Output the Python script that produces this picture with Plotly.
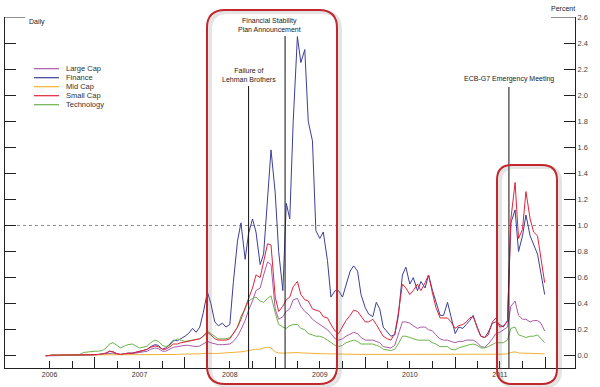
import plotly.graph_objects as go
import pandas as pd

# ---------------- data (semi-monthly readings, last point = end of 2011) ----------------
dates = list(pd.date_range("2006-06-15", "2011-12-15", freq="SMS")) + [pd.Timestamp("2011-12-30")]

large_cap = [
    0.0, 0.005, 0.005, 0.005, 0.005, 0.005, 0.005, 0.005, 0.005, 0.005,
    0.005, 0.005, 0.005, 0.005, 0.005, 0.01, 0.015, 0.02, 0.02, 0.01,
    0.01, 0.01, 0.012, 0.015, 0.02, 0.025, 0.03, 0.035, 0.05, 0.06,
    0.055, 0.035, 0.035, 0.05, 0.065, 0.07, 0.075, 0.08, 0.08, 0.075,
    0.07, 0.075, 0.09, 0.11, 0.10, 0.09, 0.085, 0.085, 0.09, 0.09,
    0.11, 0.15, 0.20, 0.27, 0.35, 0.42, 0.50, 0.52, 0.62, 0.72,
    0.70, 0.36, 0.28, 0.30, 0.34, 0.36, 0.43, 0.44, 0.38, 0.34,
    0.32, 0.28, 0.26, 0.24, 0.22, 0.20, 0.17, 0.13, 0.12, 0.13,
    0.15, 0.17, 0.18, 0.17, 0.14, 0.12, 0.12, 0.12, 0.11, 0.10,
    0.07, 0.065, 0.06, 0.08, 0.17, 0.26, 0.26, 0.25, 0.23, 0.21,
    0.22, 0.22, 0.20, 0.19, 0.16, 0.13, 0.12, 0.12, 0.11, 0.10,
    0.11, 0.11, 0.12, 0.12, 0.12, 0.10, 0.07, 0.065, 0.09, 0.13,
    0.17, 0.18, 0.20, 0.22, 0.38, 0.42, 0.31, 0.28, 0.28, 0.26,
    0.27, 0.27, 0.25, 0.19,
]

finance = [
    0.0, 0.0, 0.005, 0.005, 0.005, 0.005, 0.005, 0.005, 0.005, 0.005,
    0.005, 0.005, 0.005, 0.005, 0.01, 0.015, 0.02, 0.035, 0.03, 0.015,
    0.01, 0.015, 0.02, 0.02, 0.025, 0.03, 0.04, 0.05, 0.07, 0.085,
    0.08, 0.05, 0.06, 0.09, 0.12, 0.115, 0.13, 0.15, 0.17, 0.21,
    0.18, 0.22, 0.33, 0.49, 0.40, 0.26, 0.23, 0.25, 0.22, 0.24,
    0.56, 0.88, 1.02, 0.74, 0.94, 1.05, 0.95, 0.70, 0.78, 1.19,
    1.58, 1.25, 0.80, 0.50, 1.17, 1.05, 1.80, 2.45, 2.25, 2.35,
    1.80, 1.65, 0.96, 0.90, 0.95, 0.73, 0.45, 0.50, 0.50, 0.45,
    0.55, 0.65, 0.69, 0.65, 0.47, 0.37, 0.32, 0.30, 0.41, 0.36,
    0.22, 0.18, 0.15, 0.16, 0.30, 0.62, 0.68, 0.55, 0.60, 0.50,
    0.57, 0.52, 0.62, 0.50, 0.42, 0.31, 0.31, 0.41, 0.30, 0.17,
    0.22, 0.21, 0.24, 0.27, 0.31, 0.21, 0.15, 0.14, 0.18, 0.25,
    0.26, 0.24, 0.22, 0.27, 1.02, 1.12, 0.80, 0.92, 1.08, 0.92,
    0.85, 0.78, 0.63, 0.47,
]

mid_cap = [
    0.0, 0.005, 0.005, 0.005, 0.005, 0.005, 0.005, 0.005, 0.005, 0.005,
    0.005, 0.005, 0.005, 0.005, 0.005, 0.005, 0.005, 0.005, 0.005, 0.005,
    0.005, 0.005, 0.005, 0.005, 0.005, 0.005, 0.008, 0.008, 0.01, 0.01,
    0.01, 0.01, 0.01, 0.01, 0.01, 0.01, 0.012, 0.012, 0.015, 0.015,
    0.015, 0.015, 0.018, 0.02, 0.02, 0.018, 0.018, 0.02, 0.02, 0.022,
    0.025, 0.03, 0.03, 0.035, 0.04, 0.045, 0.05, 0.05, 0.06, 0.065,
    0.06, 0.03, 0.022, 0.02, 0.022, 0.025, 0.025, 0.025, 0.022, 0.02,
    0.02, 0.018, 0.017, 0.016, 0.015, 0.015, 0.014, 0.013, 0.012, 0.012,
    0.012, 0.012, 0.012, 0.01, 0.01, 0.01, 0.01, 0.01, 0.01, 0.01,
    0.008, 0.008, 0.008, 0.008, 0.01, 0.012, 0.012, 0.012, 0.012, 0.012,
    0.012, 0.012, 0.012, 0.01, 0.01, 0.01, 0.01, 0.01, 0.008, 0.008,
    0.008, 0.008, 0.008, 0.008, 0.008, 0.008, 0.008, 0.008, 0.008, 0.01,
    0.012, 0.012, 0.012, 0.015, 0.025, 0.03, 0.022, 0.02, 0.02, 0.018,
    0.018, 0.018, 0.016, 0.015,
]

small_cap = [
    0.0, 0.005, 0.005, 0.005, 0.005, 0.005, 0.005, 0.005, 0.005, 0.005,
    0.005, 0.005, 0.005, 0.005, 0.01, 0.015, 0.02, 0.035, 0.03, 0.015,
    0.01, 0.015, 0.02, 0.02, 0.025, 0.03, 0.04, 0.05, 0.065, 0.075,
    0.07, 0.05, 0.05, 0.07, 0.09, 0.09, 0.10, 0.105, 0.11, 0.115,
    0.12, 0.13, 0.15, 0.18, 0.16, 0.13, 0.12, 0.12, 0.12, 0.13,
    0.17, 0.22, 0.28, 0.36, 0.44, 0.52, 0.62, 0.60, 0.72, 0.86,
    0.85, 0.45, 0.34, 0.38, 0.43, 0.45, 0.53, 0.57, 0.47, 0.43,
    0.42, 0.36, 0.35, 0.34, 0.30, 0.29, 0.24, 0.19, 0.17, 0.23,
    0.27, 0.31, 0.35, 0.34, 0.30, 0.26, 0.26, 0.28, 0.24, 0.20,
    0.15, 0.13, 0.12, 0.17, 0.32, 0.55, 0.52, 0.47, 0.50, 0.55,
    0.50, 0.56, 0.62, 0.48, 0.37, 0.29, 0.29, 0.29, 0.26, 0.21,
    0.23, 0.24, 0.26, 0.29, 0.30, 0.21, 0.15, 0.14, 0.16, 0.26,
    0.29, 0.22, 0.23, 0.26, 1.05, 1.33, 0.90, 0.97, 1.26, 1.05,
    0.95, 0.92, 0.75, 0.56,
]

technology = [
    0.0, 0.005, 0.005, 0.005, 0.005, 0.005, 0.005, 0.005, 0.005, 0.01,
    0.025, 0.03, 0.03, 0.035, 0.035, 0.04, 0.06, 0.09, 0.10, 0.075,
    0.06, 0.075, 0.085, 0.09, 0.075, 0.06, 0.065, 0.075, 0.10, 0.12,
    0.11, 0.08, 0.07, 0.08, 0.11, 0.13, 0.12, 0.11, 0.115, 0.12,
    0.125, 0.13, 0.15, 0.19, 0.17, 0.15, 0.13, 0.13, 0.13, 0.14,
    0.17, 0.22, 0.30, 0.36, 0.42, 0.44, 0.45, 0.42, 0.41, 0.44,
    0.46, 0.33, 0.24, 0.22, 0.21, 0.23, 0.24, 0.24, 0.21, 0.20,
    0.17, 0.16, 0.15, 0.15, 0.14, 0.12, 0.10, 0.08, 0.07, 0.08,
    0.10, 0.11, 0.12, 0.11, 0.09, 0.09, 0.09, 0.09, 0.08, 0.07,
    0.05, 0.045, 0.04, 0.05, 0.09, 0.15, 0.15, 0.14, 0.13, 0.12,
    0.12, 0.12, 0.12, 0.10, 0.09, 0.07, 0.07, 0.07, 0.05, 0.045,
    0.06, 0.07, 0.08, 0.085, 0.09, 0.08, 0.06, 0.06, 0.07, 0.09,
    0.10, 0.10, 0.10, 0.12, 0.21, 0.22, 0.16, 0.15, 0.14, 0.15,
    0.15, 0.16, 0.13, 0.10,
]

series_names = ["Large Cap", "Finance", "Mid Cap", "Small Cap", "Technology"]
series_values = [large_cap, finance, mid_cap, small_cap, technology]
series_colors = ["#A95AAA", "#3C3F98", "#F2B134", "#E2233A", "#6DB34A"]

year_labels = ["2006", "2007", "2008", "2009", "2010", "2011"]
y_ticks = [round(0.2 * k, 1) for k in range(14)]

events = [
    ("2008-09-15", "Failure of<br>Lehman Brothers"),
    ("2009-02-10", "Financial Stability<br>Plan Announcement"),
    ("2011-08-07", "ECB-G7 Emergency Meeting"),
]

# ---------------- layout helpers ----------------
W, H = 600, 387
L, R, T, B = 5, 575, 17, 368
Y_MIN, Y_MAX = -0.094, 2.6
FONT = "Liberation Sans, Arial, sans-serif"


def px(x):
    return (x - L) / (R - L)


def py(y):
    return (B - y) / (B - T)


def rrect(x0, y0, x1, y1, r):
    pts = [
        ("M", [(x0 + r, y0)]), ("L", [(x1 - r, y0)]), ("Q", [(x1, y0), (x1, y0 + r)]),
        ("L", [(x1, y1 - r)]), ("Q", [(x1, y1), (x1 - r, y1)]),
        ("L", [(x0 + r, y1)]), ("Q", [(x0, y1), (x0, y1 - r)]),
        ("L", [(x0, y0 + r)]), ("Q", [(x0, y0), (x0 + r, y0)]),
    ]
    s = ""
    for cmd, pp in pts:
        s += cmd + " " + " ".join(f"{px(a):.5f},{py(b):.5f}" for a, b in pp) + " "
    return s + "Z"


fig = go.Figure()
for name, vals, col in zip(series_names, series_values, series_colors):
    on2 = name == "Small Cap"
    fig.add_trace(go.Scatter(
        x=dates, y=vals, name=name, mode="lines",
        line=dict(color=col, width=1),
        xaxis="x2" if on2 else "x", yaxis="y2" if on2 else "y",
        showlegend=False,
    ))

shapes = []
# dotted 1.0 reference line
shapes.append(dict(type="line", xref="paper", yref="y", x0=0, x1=1, y0=1.0, y1=1.0,
                   line=dict(color="#8a8a8a", width=1, dash="dot"), layer="below"))
# top caps of the axes
shapes.append(dict(type="line", xref="paper", yref="y", x0=px(5), x1=px(25), y0=Y_MAX, y1=Y_MAX,
                   line=dict(color="#222", width=1)))
shapes.append(dict(type="line", xref="paper", yref="y", x0=px(551), x1=px(575), y0=Y_MAX, y1=Y_MAX,
                   line=dict(color="#222", width=1)))
# event lines
event_tops = [86, 36, 87]
for (d, _), top in zip(events, event_tops):
    shapes.append(dict(type="line", xref="x", yref="paper", x0=d, x1=d, y0=0, y1=py(top),
                       line=dict(color="#111", width=1)))
# highlight boxes with soft shadow
for (x0, y0, x1, y1, r) in [(207, 10, 337, 384, 18), (497, 165, 557, 384, 15)]:
    shapes.append(dict(type="path", xref="paper", yref="paper",
                       path=rrect(x0 + 3, y0 + 2, x1 + 3, y1 + 2, r),
                       line=dict(color="rgba(120,120,120,0.2)", width=4)))
    shapes.append(dict(type="path", xref="paper", yref="paper",
                       path=rrect(x0, y0, x1, y1, r),
                       line=dict(color="#C1272D", width=2)))

annotations = []
# manual legend (tight rows, as in the reference)
leg_y = [68.7, 77.7, 86.7, 95.7, 104.7]
for name, col, yy in zip(series_names, series_colors, leg_y):
    shapes.append(dict(type="line", xref="paper", yref="paper", x0=px(34), x1=px(59),
                       y0=py(yy), y1=py(yy), line=dict(color=col, width=1.2)))
    annotations.append(dict(xref="paper", yref="paper", x=px(65), y=py(yy), text=name,
                            showarrow=False, xanchor="left", yanchor="middle", borderpad=0,
                            font=dict(family=FONT, size=7.5, color="#333")))
# axis unit labels
annotations.append(dict(xref="paper", yref="paper", x=px(27), y=py(22), text="Daily",
                        showarrow=False, xanchor="left", yanchor="middle",
                        font=dict(family=FONT, size=7, color="#222")))
annotations.append(dict(xref="paper", yref="paper", x=px(563), y=py(8), text="Percent",
                        showarrow=False, xanchor="center", yanchor="middle",
                        font=dict(family=FONT, size=7, color="#222")))
# event labels
ev_bottom = [84, 34, 84]
ev_shift = [0, -16, 0]
for (d, txt), bot, sh in zip(events, ev_bottom, ev_shift):
    annotations.append(dict(xref="x", yref="paper", x=d, y=py(bot), text=txt, xshift=sh,
                            showarrow=False, xanchor="center", yanchor="bottom",
                            borderpad=0,
                            font=dict(family=FONT, size=7, color="#222")))

x_range = ["2006-01-01", "2012-05-01"]
jul = [f"{y}-07-01" for y in year_labels]
quarters = [f"{y}-{m}-01" for y in range(2006, 2012) for m in ("04", "10") if f"{y}-{m}-01" > "2006-06-30"]
jans = [f"{y}-01-01" for y in range(2007, 2013)]

fig.update_layout(
    width=W, height=H,
    margin=dict(l=L, r=W - R, t=T, b=H - B),
    paper_bgcolor="white", plot_bgcolor="white",
    font=dict(family=FONT, color="#333"),
    showlegend=False,
    shapes=shapes, annotations=annotations,
    xaxis=dict(type="date", range=x_range, tickmode="array", tickvals=jul, ticktext=year_labels,
               ticks="inside", ticklen=7, tickwidth=1, tickcolor="#222",
               showline=True, linecolor="#222", linewidth=1, showgrid=False, zeroline=False,
               tickfont=dict(size=7, color="#333"),
               minor=dict(tickmode="array", tickvals=quarters, ticks="inside", ticklen=7,
                          tickcolor="#222", tickwidth=1, showgrid=False)),
    xaxis2=dict(type="date", range=x_range, overlaying="x", anchor="y2", side="bottom",
                tickmode="array", tickvals=jans, ticktext=[""] * len(jans),
                ticks="inside", ticklen=11, tickwidth=1, tickcolor="#222",
                showticklabels=False, showline=False, showgrid=False, zeroline=False),
    yaxis=dict(range=[Y_MIN, Y_MAX], side="right", anchor="x", tickmode="array", tickvals=y_ticks,
               ticktext=[f"{v:.1f}" for v in y_ticks], ticks="inside", ticklen=11, tickwidth=1,
               tickcolor="#222", showline=True, linecolor="#222", linewidth=1,
               showgrid=False, zeroline=False, tickfont=dict(size=7.5, color="#444")),
    yaxis2=dict(range=[Y_MIN, Y_MAX], side="left", overlaying="y", anchor="x2", tickmode="array",
                tickvals=y_ticks, ticks="inside", ticklen=11, tickwidth=1, tickcolor="#222",
                showticklabels=False, showline=True, linecolor="#222", linewidth=1,
                showgrid=False, zeroline=False),
)

fig.write_html("out.html", config={"displayModeBar": False},
               post_script="document.body.style.margin='0px';")
